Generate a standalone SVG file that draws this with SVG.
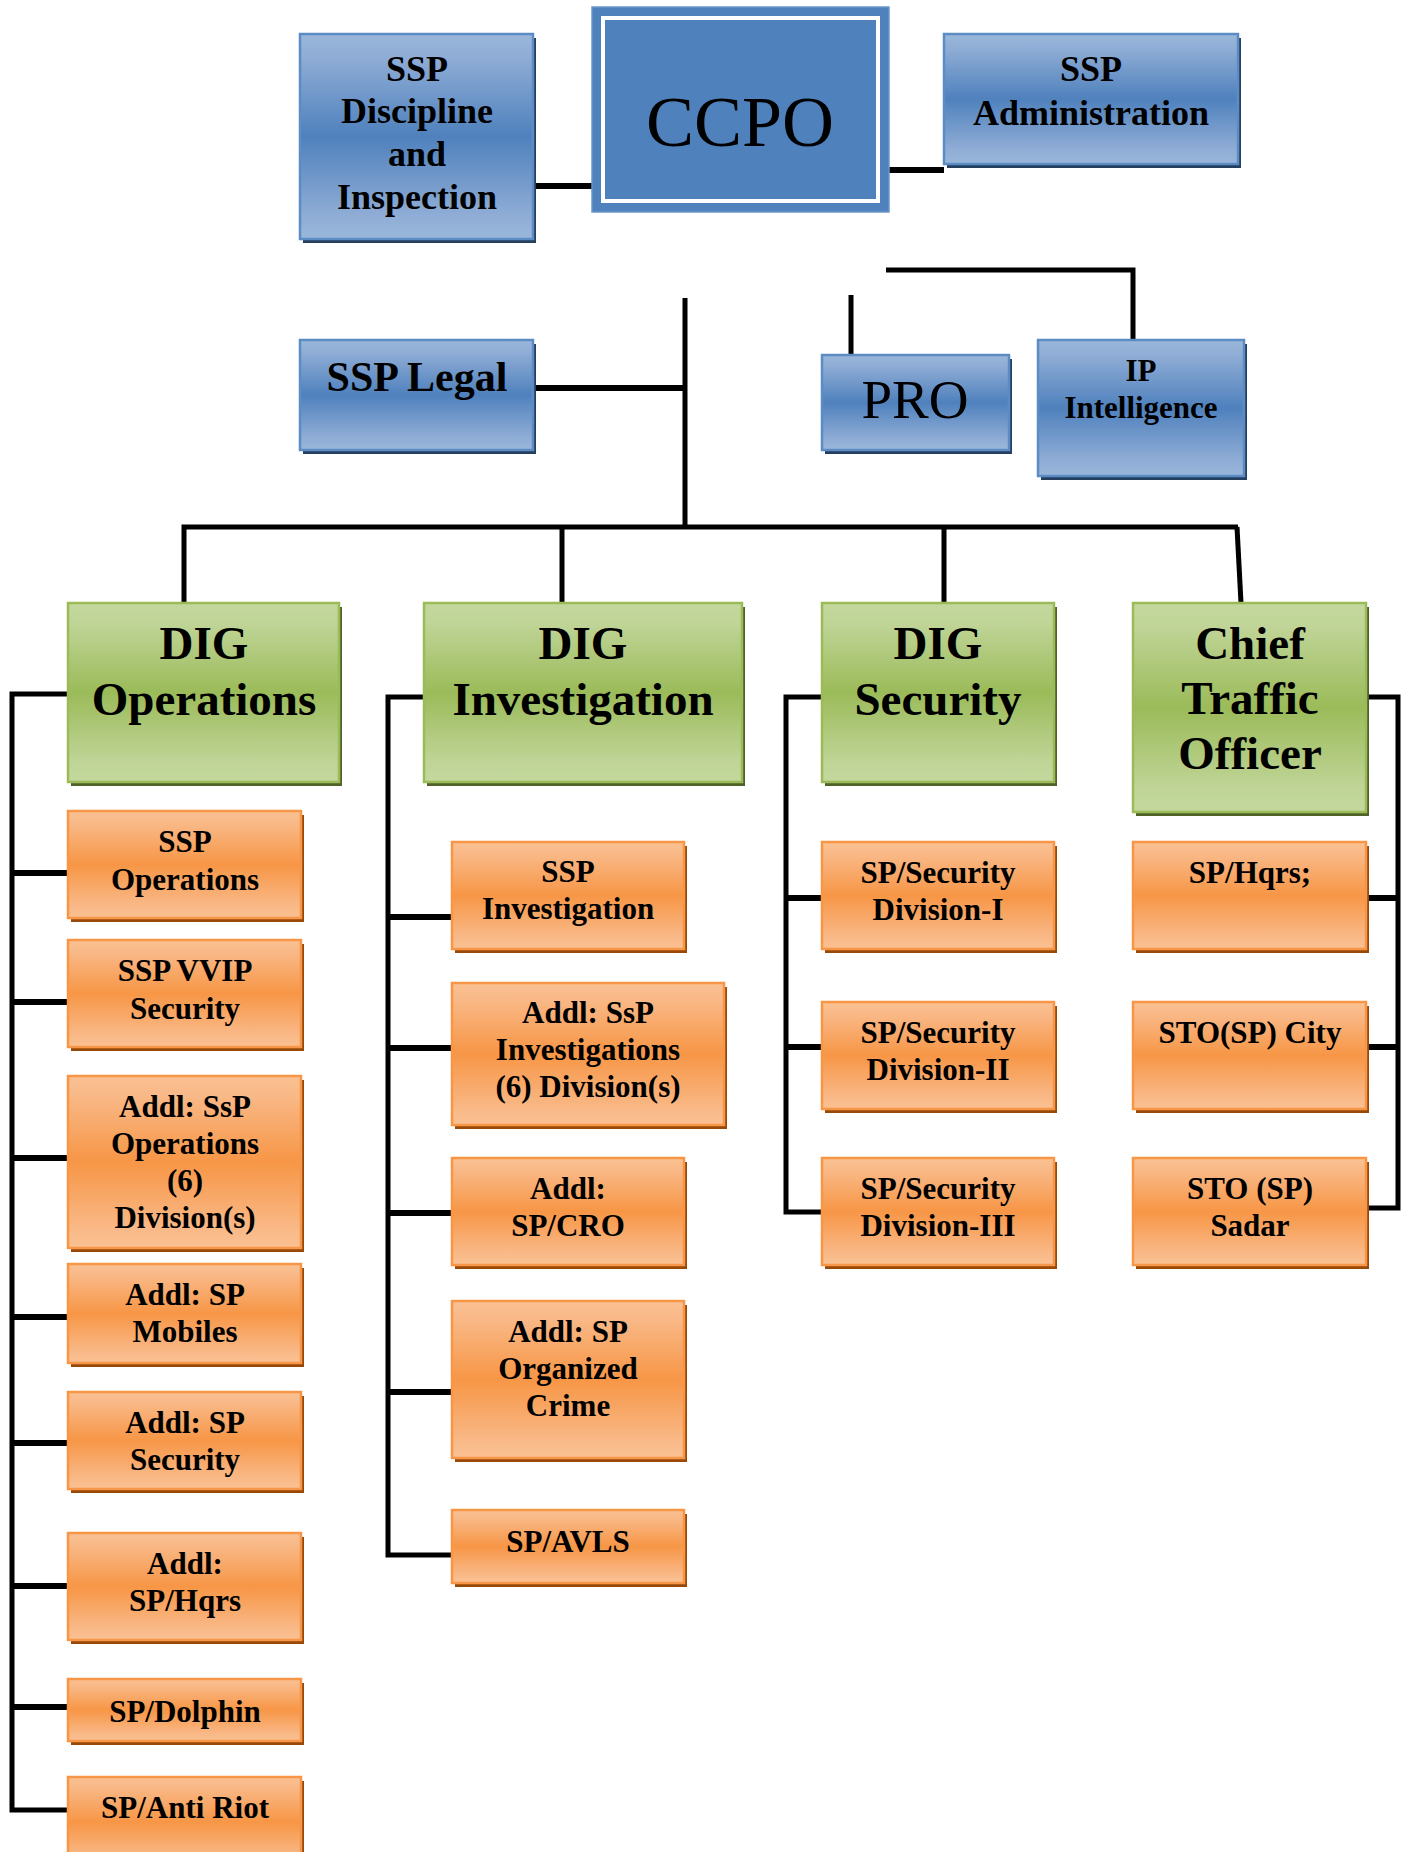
<svg xmlns="http://www.w3.org/2000/svg" width="1410" height="1852" viewBox="0 0 1410 1852">
<defs>
<linearGradient id="gb" x1="0" y1="0" x2="0" y2="1">
<stop offset="0" stop-color="#9ab7da"/><stop offset="0.12" stop-color="#8eacd5"/><stop offset="0.5" stop-color="#4f81bd"/><stop offset="0.88" stop-color="#8eacd5"/><stop offset="1" stop-color="#9ab7da"/>
</linearGradient>
<linearGradient id="gg" x1="0" y1="0" x2="0" y2="1">
<stop offset="0" stop-color="#c4d89e"/><stop offset="0.12" stop-color="#bfd496"/><stop offset="0.5" stop-color="#9bbb59"/><stop offset="0.88" stop-color="#bfd496"/><stop offset="1" stop-color="#c4d89e"/>
</linearGradient>
<linearGradient id="go" x1="0" y1="0" x2="0" y2="1">
<stop offset="0" stop-color="#fac193"/><stop offset="0.12" stop-color="#f9b886"/><stop offset="0.5" stop-color="#f79646"/><stop offset="0.88" stop-color="#f9b886"/><stop offset="1" stop-color="#fac193"/>
</linearGradient>
<style>
.sb{fill:#243f60}
.sg{fill:#4f6228}
.so{fill:#984807}
.b{fill:url(#gb);stroke:#5c8cc4;stroke-width:2.5}
.g{fill:url(#gg);stroke:#9bbb59;stroke-width:2.5}
.o{fill:url(#go);stroke:#f79646;stroke-width:2.5}
text{font-family:"Liberation Serif","Times New Roman",serif;font-weight:bold;text-anchor:middle;fill:#000}
.t36{font-size:36px}
.t42{font-size:42px}
.t31{font-size:31px}
.t47{font-size:47px}
.reg{font-weight:normal}
.c path{fill:none;stroke:#000;stroke-width:5;stroke-linejoin:miter}
.c .w{stroke-width:6}
</style>
</defs>
<rect width="1410" height="1852" fill="#fff"/>

<g class="c" id="connectors">
<path class="w" d="M533 186H592"/>
<path class="w" d="M889 170H944"/>
<path d="M685 298V527"/>
<path class="w" d="M533 388H685"/>
<path d="M851 295V355"/>
<path d="M886 270H1133V340"/>
<path d="M184 603V527H1238"/>
<path d="M562 527V603"/>
<path d="M944 527V603"/>
<path d="M1237 527L1241 603"/>
<path d="M68 694H12V1810H68"/>
<path class="w" d="M12 873H68M12 1002H68M12 1158H68M12 1317H68M12 1443H68M12 1586H68M12 1707H68"/>
<path d="M424 697H388V1555H452"/>
<path class="w" d="M388 917H452M388 1048H452M388 1213H452M388 1392H452"/>
<path d="M822 697H786V1212H822"/>
<path class="w" d="M786 898H822M786 1047H822"/>
<path d="M1366 697H1398V1208H1366"/>
<path class="w" d="M1366 898H1398M1366 1047H1398"/>
</g>

<g id="ccpo">
<rect x="592" y="7" width="297" height="205" fill="#4f81bd" stroke="#6b96ca" stroke-width="1.5"/>
<rect x="603" y="18" width="275" height="183" fill="#4f81bd" stroke="#fff" stroke-width="4"/>
<text class="reg" x="740" y="146" font-size="72">CCPO</text>
</g>
<g id="ssp-discipline">
<rect class="sb" x="303" y="38" width="233" height="205"/>
<rect class="b" x="300" y="34" width="233" height="205"/>
<text class="t36" x="417" y="81">SSP</text>
<text class="t36" x="417" y="123">Discipline</text>
<text class="t36" x="417" y="166">and</text>
<text class="t36" x="417" y="209">Inspection</text>
</g>
<g id="ssp-admin">
<rect class="sb" x="947" y="38" width="294" height="130"/>
<rect class="b" x="944" y="34" width="294" height="130"/>
<text class="t36" x="1091" y="81">SSP</text>
<text class="t36" x="1091" y="125">Administration</text>
</g>
<g id="ssp-legal">
<rect class="sb" x="303" y="344" width="233" height="110"/>
<rect class="b" x="300" y="340" width="233" height="110"/>
<text class="t42" x="417" y="391">SSP Legal</text>
</g>
<g id="pro">
<rect class="sb" x="825" y="359" width="187" height="95"/>
<rect class="b" x="822" y="355" width="187" height="95"/>
<text class="reg" x="915" y="418" font-size="55">PRO</text>
</g>
<g id="ip-intelligence">
<rect class="sb" x="1041" y="344" width="206" height="136"/>
<rect class="b" x="1038" y="340" width="206" height="136"/>
<text class="t31" x="1141" y="381">IP</text>
<text class="t31" x="1141" y="418">Intelligence</text>
</g>

<g id="dig-operations">
<rect class="sg" x="71" y="607" width="271" height="179"/>
<rect class="g" x="68" y="603" width="271" height="179"/>
<text class="t47" x="204" y="659">DIG</text>
<text class="t47" x="204" y="715">Operations</text>
</g>
<g id="dig-investigation">
<rect class="sg" x="427" y="607" width="318" height="179"/>
<rect class="g" x="424" y="603" width="318" height="179"/>
<text class="t47" x="583" y="659">DIG</text>
<text class="t47" x="583" y="715">Investigation</text>
</g>
<g id="dig-security">
<rect class="sg" x="825" y="607" width="232" height="179"/>
<rect class="g" x="822" y="603" width="232" height="179"/>
<text class="t47" x="938" y="659">DIG</text>
<text class="t47" x="938" y="715">Security</text>
</g>
<g id="chief-traffic">
<rect class="sg" x="1136" y="607" width="233" height="209"/>
<rect class="g" x="1133" y="603" width="233" height="209"/>
<text class="t47" x="1250" y="659">Chief</text>
<text class="t47" x="1250" y="714">Traffic</text>
<text class="t47" x="1250" y="769">Officer</text>
</g>

<g id="ssp-operations">
<rect class="so" x="71" y="815" width="233" height="107"/>
<rect class="o" x="68" y="811" width="233" height="107"/>
<text class="t31" x="185" y="852">SSP</text>
<text class="t31" x="185" y="890">Operations</text>
</g>
<g id="ssp-vvip">
<rect class="so" x="71" y="944" width="233" height="107"/>
<rect class="o" x="68" y="940" width="233" height="107"/>
<text class="t31" x="185" y="981">SSP VVIP</text>
<text class="t31" x="185" y="1019">Security</text>
</g>
<g id="addl-ssp-operations">
<rect class="so" x="71" y="1080" width="233" height="172"/>
<rect class="o" x="68" y="1076" width="233" height="172"/>
<text class="t31" x="185" y="1117">Addl: SsP</text>
<text class="t31" x="185" y="1154">Operations</text>
<text class="t31" x="185" y="1191">(6)</text>
<text class="t31" x="185" y="1228">Division(s)</text>
</g>
<g id="addl-sp-mobiles">
<rect class="so" x="71" y="1268" width="233" height="99"/>
<rect class="o" x="68" y="1264" width="233" height="99"/>
<text class="t31" x="185" y="1305">Addl: SP</text>
<text class="t31" x="185" y="1342">Mobiles</text>
</g>
<g id="addl-sp-security">
<rect class="so" x="71" y="1396" width="233" height="97"/>
<rect class="o" x="68" y="1392" width="233" height="97"/>
<text class="t31" x="185" y="1433">Addl: SP</text>
<text class="t31" x="185" y="1470">Security</text>
</g>
<g id="addl-sp-hqrs">
<rect class="so" x="71" y="1537" width="233" height="107"/>
<rect class="o" x="68" y="1533" width="233" height="107"/>
<text class="t31" x="185" y="1574">Addl:</text>
<text class="t31" x="185" y="1611">SP/Hqrs</text>
</g>
<g id="sp-dolphin">
<rect class="so" x="71" y="1683" width="233" height="62"/>
<rect class="o" x="68" y="1679" width="233" height="62"/>
<text class="t31" x="185" y="1722">SP/Dolphin</text>
</g>
<g id="sp-anti-riot">
<rect class="so" x="71" y="1781" width="233" height="90"/>
<rect class="o" x="68" y="1777" width="233" height="90"/>
<text class="t31" x="185" y="1818">SP/Anti Riot</text>
</g>

<g id="ssp-investigation">
<rect class="so" x="455" y="846" width="232" height="107"/>
<rect class="o" x="452" y="842" width="232" height="107"/>
<text class="t31" x="568" y="882">SSP</text>
<text class="t31" x="568" y="919">Investigation</text>
</g>
<g id="addl-ssp-investigations">
<rect class="so" x="455" y="987" width="272" height="142"/>
<rect class="o" x="452" y="983" width="272" height="142"/>
<text class="t31" x="588" y="1023">Addl: SsP</text>
<text class="t31" x="588" y="1060">Investigations</text>
<text class="t31" x="588" y="1097">(6) Division(s)</text>
</g>
<g id="addl-sp-cro">
<rect class="so" x="455" y="1162" width="232" height="107"/>
<rect class="o" x="452" y="1158" width="232" height="107"/>
<text class="t31" x="568" y="1199">Addl:</text>
<text class="t31" x="568" y="1236">SP/CRO</text>
</g>
<g id="addl-sp-organized-crime">
<rect class="so" x="455" y="1305" width="232" height="157"/>
<rect class="o" x="452" y="1301" width="232" height="157"/>
<text class="t31" x="568" y="1342">Addl: SP</text>
<text class="t31" x="568" y="1379">Organized</text>
<text class="t31" x="568" y="1416">Crime</text>
</g>
<g id="sp-avls">
<rect class="so" x="455" y="1514" width="232" height="73"/>
<rect class="o" x="452" y="1510" width="232" height="73"/>
<text class="t31" x="568" y="1552">SP/AVLS</text>
</g>

<g id="sp-security-1">
<rect class="so" x="825" y="846" width="232" height="107"/>
<rect class="o" x="822" y="842" width="232" height="107"/>
<text class="t31" x="938" y="883">SP/Security</text>
<text class="t31" x="938" y="920">Division-I</text>
</g>
<g id="sp-security-2">
<rect class="so" x="825" y="1006" width="232" height="107"/>
<rect class="o" x="822" y="1002" width="232" height="107"/>
<text class="t31" x="938" y="1043">SP/Security</text>
<text class="t31" x="938" y="1080">Division-II</text>
</g>
<g id="sp-security-3">
<rect class="so" x="825" y="1162" width="232" height="107"/>
<rect class="o" x="822" y="1158" width="232" height="107"/>
<text class="t31" x="938" y="1199">SP/Security</text>
<text class="t31" x="938" y="1236">Division-III</text>
</g>

<g id="sp-hqrs">
<rect class="so" x="1136" y="846" width="233" height="107"/>
<rect class="o" x="1133" y="842" width="233" height="107"/>
<text class="t31" x="1250" y="883">SP/Hqrs;</text>
</g>
<g id="sto-city">
<rect class="so" x="1136" y="1006" width="233" height="107"/>
<rect class="o" x="1133" y="1002" width="233" height="107"/>
<text class="t31" x="1250" y="1043">STO(SP) City</text>
</g>
<g id="sto-sadar">
<rect class="so" x="1136" y="1162" width="233" height="107"/>
<rect class="o" x="1133" y="1158" width="233" height="107"/>
<text class="t31" x="1250" y="1199">STO (SP)</text>
<text class="t31" x="1250" y="1236">Sadar</text>
</g>
</svg>
